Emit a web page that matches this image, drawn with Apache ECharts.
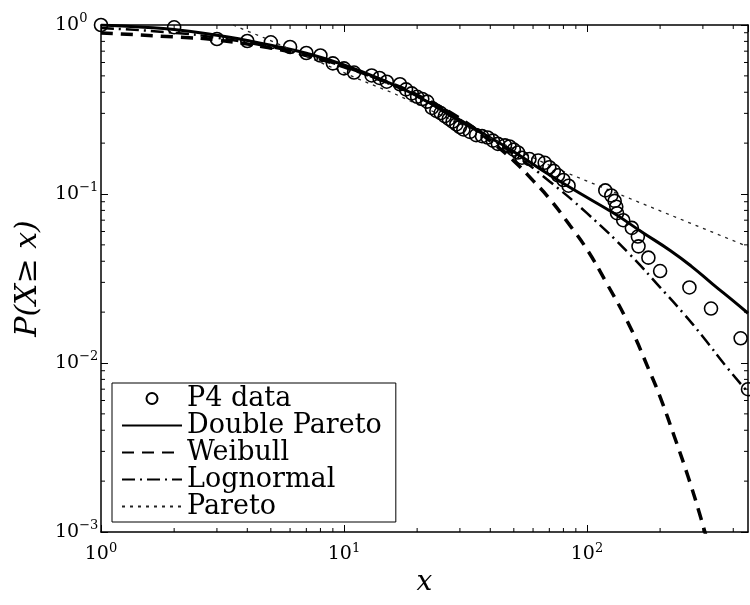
<!DOCTYPE html>
<html>
<head>
<meta charset="utf-8">
<script src="https://cdn.jsdelivr.net/npm/echarts@6/dist/echarts.min.js"></script>
<style>
  html, body { margin: 0; padding: 0; background: #fff; }
  #chart { width: 750px; height: 605px; }
</style>
</head>
<body>
<div id="chart"></div>
<script>
// Empirical CCDF of the P4 data
const p4X = [1,2,3,4,5,6,7,8,9,10,11,13,14,15,17,18,19,20,21,22,23,24,25,26,27,28,29,30,31,
  33,35,37,39,41,43,46,48,50,52,54,58,63,67,70,73,76,80,84,
  119,126,130,132,133,141,153,162,163,179,200,264,324,429,460];
const p4Y = [1.0,0.969,0.826,0.804,0.790,0.741,0.683,0.660,0.593,0.554,0.523,0.503,0.486,0.462,
  0.446,0.416,0.394,0.376,0.365,0.352,0.323,0.310,0.301,0.289,0.278,0.268,0.258,0.249,0.241,
  0.233,0.223,0.220,0.216,0.207,0.198,0.194,0.191,0.183,0.176,0.164,0.161,0.158,0.153,0.144,0.137,0.129,0.121,0.112,
  0.105,0.098,0.091,0.084,0.077,0.070,0.063,0.056,0.049,0.042,0.035,0.028,0.021,0.014,0.007];

// Fitted distributions
const dparetoX = [1,1.5,2,3,4,5,7,10,15,20,30,40,50,70,93.5,128.6,170,220,270,330,400,460];
const dparetoY = [1.0,0.97,0.94,0.87,0.81,0.76,0.68,0.58,0.46,0.38,0.27,0.215,0.178,0.13,0.101,0.0771,0.059,0.0463,0.0372,0.0292,0.0233,0.0197];

const weibullX = [1,2,3,5,7,10,15,20,30,40,50,60,70,85,100,120,150,180,200,230,260,290,320];
const weibullY = [0.897,0.85,0.815,0.73,0.66,0.565,0.46,0.385,0.28,0.206,0.157,0.12,0.094,0.0653,0.047,0.030,0.0165,0.0091,0.0063,0.0036,0.00215,0.0013,0.00079];

const lognormX = [1,2,3,5,7,10,15,20,30,50,70,100,150,200,250,300,375,460];
const lognormY = [0.96,0.90,0.84,0.74,0.66,0.566,0.455,0.377,0.276,0.172,0.119,0.077,0.044,0.028,0.0196,0.0143,0.0095,0.0067];

const paretoX = [3.5,3.9,4.6,11.7,15.9,77,460];
const paretoY = [1.0,0.934,0.85,0.473,0.396,0.139,0.0488];

// Axis decoration values
const xMinorTicks = [2,3,4,5,6,7,8,9,20,30,40,50,60,70,80,90,200,300,400];
const yMinorTicks = [0.002,0.003,0.004,0.005,0.006,0.007,0.008,0.009,
  0.02,0.03,0.04,0.05,0.06,0.07,0.08,0.09,0.2,0.3,0.4,0.5,0.6,0.7,0.8,0.9];

const X_MIN = 1, X_MAX = 460, Y_MIN = 0.001, Y_MAX = 1;
const SERIF = 'DejaVu Serif';

const zip = (xs, ys) => xs.map((x, i) => [x, ys[i]]);

function powLabel(v) {
  const e = Math.round(Math.log10(v));
  return '{b|10}{s|' + (e < 0 ? '\u2212' + (-e) : e) + '}';
}
const labelRich = {
  b: { fontFamily: SERIF, fontSize: 19, color: '#000' },
  s: { fontFamily: SERIF, fontSize: 13, color: '#000', padding: [0, 0, 12, 0] }
};

const chart = echarts.init(document.getElementById('chart'), null, { renderer: 'canvas' });

// Minor ticks 2..9 of every decade, placed through the axis scale on both box sides
function tickSeries(values, isX) {
  return {
    type: 'custom',
    silent: true,
    xAxisIndex: 0, yAxisIndex: 0,
    clip: false,
    z: 5,
    data: values.map(v => isX ? [v, 0.1] : [10, v]),
    renderItem: function (params, api) {
      const cs = params.coordSys;
      const p = api.coord([api.value(0), api.value(1)]);
      const st = { stroke: '#000', lineWidth: 1 };
      const L = 4;
      if (isX) {
        return { type: 'group', children: [
          { type: 'line', shape: { x1: p[0], y1: cs.y + cs.height, x2: p[0], y2: cs.y + cs.height - L }, style: st },
          { type: 'line', shape: { x1: p[0], y1: cs.y, x2: p[0], y2: cs.y + L }, style: st }
        ]};
      }
      return { type: 'group', children: [
        { type: 'line', shape: { x1: cs.x, y1: p[1], x2: cs.x + L, y2: p[1] }, style: st },
        { type: 'line', shape: { x1: cs.x + cs.width, y1: p[1], x2: cs.x + cs.width - L, y2: p[1] }, style: st }
      ]};
    }
  };
}

const axisCommon = {
  type: 'log',
  logBase: 10,
  splitLine: { show: false },
  axisLine: { show: true, onZero: false, lineStyle: { color: '#000', width: 1.5 } },
  axisTick: { show: true, inside: true, length: 7, lineStyle: { color: '#000', width: 1 } },
  minorTick: { show: false }
};

const hideSymbol = { opacity: 0 };

const option = {
  backgroundColor: '#fff',
  animation: false,
  grid: { left: 101, top: 25, right: 2, bottom: 73, containLabel: false, outerBoundsMode: 'none' },
  xAxis: [
    Object.assign({}, axisCommon, {
      min: X_MIN, max: X_MAX, position: 'bottom',
      axisLabel: { margin: 10, formatter: powLabel, rich: labelRich, showMaxLabel: false },
      name: 'x', nameLocation: 'middle', nameGap: 36,
      nameTextStyle: { fontFamily: SERIF, fontStyle: 'italic', fontSize: 28, color: '#000' }
    }),
    Object.assign({}, axisCommon, {
      min: X_MIN, max: X_MAX, position: 'top',
      axisLabel: { show: false }
    })
  ],
  yAxis: [
    Object.assign({}, axisCommon, {
      min: Y_MIN, max: Y_MAX, position: 'left',
      axisLabel: { margin: 46, align: 'left', formatter: powLabel, rich: labelRich },
      name: 'P(X\u2265 x)', nameLocation: 'middle', nameGap: 58, nameRotate: 90,
      nameTextStyle: { fontFamily: SERIF, fontStyle: 'italic', fontSize: 30, color: '#000' }
    }),
    Object.assign({}, axisCommon, {
      min: Y_MIN, max: Y_MAX, position: 'right',
      axisLabel: { show: false }
    })
  ],
  legend: {
    orient: 'vertical',
    left: 112, top: 383,
    itemWidth: 60, itemHeight: 11, itemGap: 0,
    padding: [2, 14, 2, 9],
    borderColor: '#000', borderWidth: 1, backgroundColor: '#fff',
    textStyle: { fontFamily: SERIF, fontSize: 27, lineHeight: 27, color: '#000' },
    data: [
      { name: 'P4 data' },
      { name: 'Double Pareto', itemStyle: hideSymbol },
      { name: 'Weibull', itemStyle: hideSymbol },
      { name: 'Lognormal', itemStyle: hideSymbol },
      { name: 'Pareto', itemStyle: hideSymbol }
    ]
  },
  series: [
    {
      name: 'P4 data', type: 'scatter',
      data: zip(p4X, p4Y),
      symbol: 'circle', symbolSize: 13,
      itemStyle: { color: 'rgba(0,0,0,0)', borderColor: '#000', borderWidth: 1.6, opacity: 1 },
      z: 3
    },
    {
      name: 'Double Pareto', type: 'line', data: zip(dparetoX, dparetoY),
      symbol: 'none', smooth: true, itemStyle: { color: '#000' },
      lineStyle: { color: '#000', width: 3, type: 'solid' }, z: 2
    },
    {
      name: 'Weibull', type: 'line', data: zip(weibullX, weibullY),
      symbol: 'none', smooth: true, itemStyle: { color: '#000' },
      lineStyle: { color: '#000', width: 3.5, type: [12, 8] }, z: 2
    },
    {
      name: 'Lognormal', type: 'line', data: zip(lognormX, lognormY),
      symbol: 'none', smooth: true, itemStyle: { color: '#000' },
      lineStyle: { color: '#000', width: 2.5, type: [13, 5, 2, 5] }, z: 2
    },
    {
      name: 'Pareto', type: 'line', data: zip(paretoX, paretoY),
      symbol: 'none', smooth: false, itemStyle: { color: '#222' },
      lineStyle: { color: '#222', width: 1.3, type: [3, 5] }, z: 2
    },
    tickSeries(xMinorTicks, true),
    tickSeries(yMinorTicks, false)
  ]
};

chart.setOption(option);
</script>
</body>
</html>
